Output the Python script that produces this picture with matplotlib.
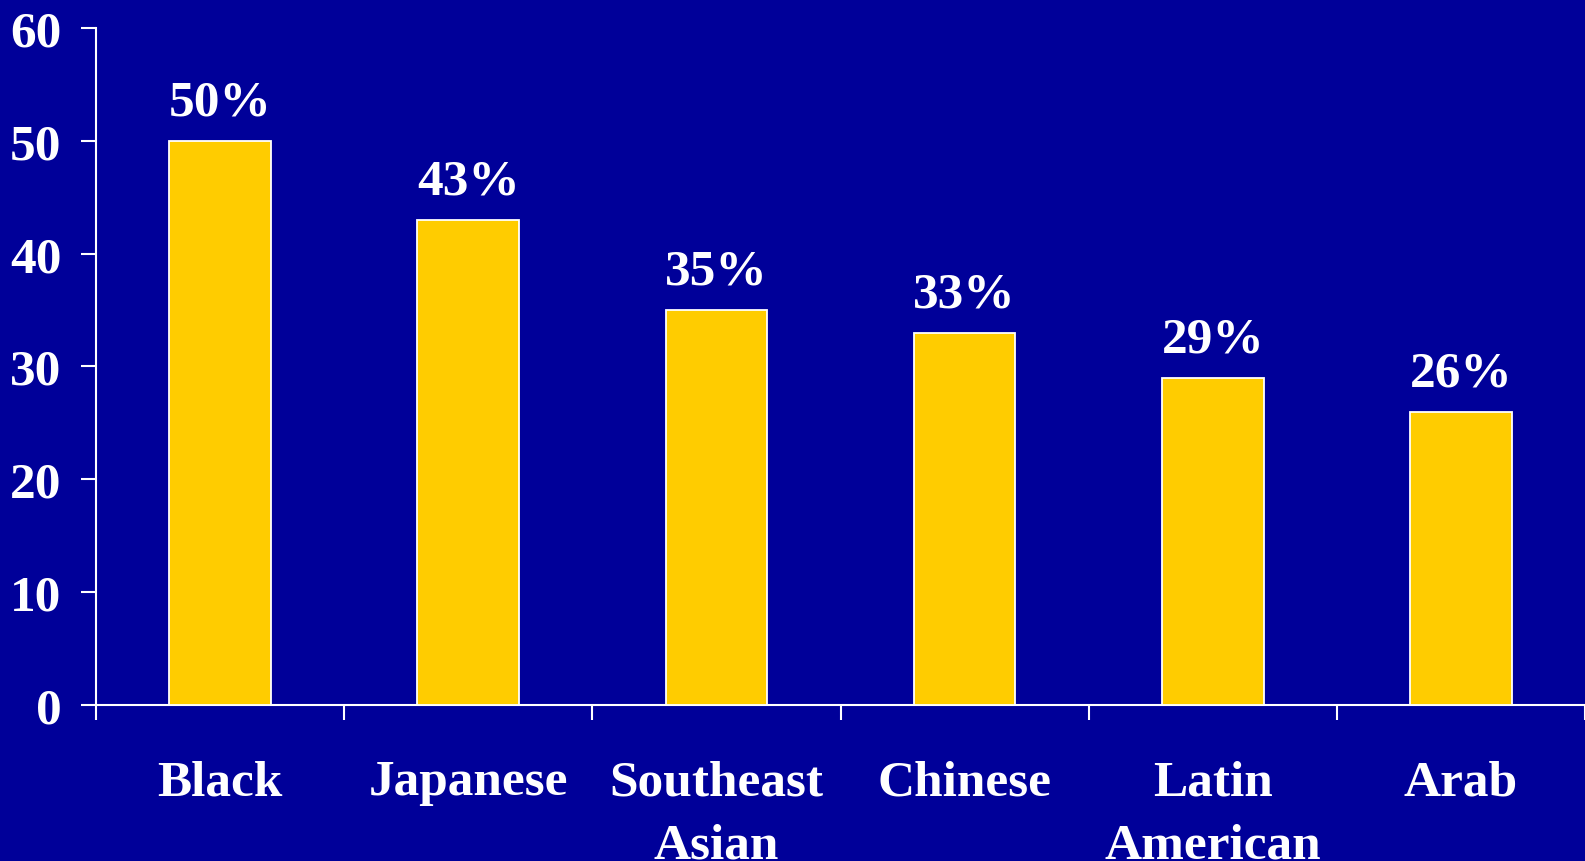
import matplotlib.pyplot as plt
import numpy as np

# Share of each group, in percent
categories = ['Black', 'Japanese', 'Southeast\nAsian', 'Chinese', 'Latin\nAmerican', 'Arab']
values = [50, 43, 35, 33, 29, 26]
y_ticks = [0, 10, 20, 30, 40, 50, 60]

BG = '#000099'
BAR = '#FFCC00'
FONT = 'Liberation Serif'
SIZE = 37

fig = plt.figure(figsize=(15.85, 8.62), dpi=100, facecolor=BG)
ax = fig.add_axes([0.0606, 0.181, 0.9394, 0.7854], facecolor=BG)

x = np.arange(len(categories))
bars = ax.bar(x, values, width=0.41, color=BAR, edgecolor='white', linewidth=1.3, zorder=3)

# value labels above each bar
for xi, v in zip(x, values):
    ax.annotate(f'{v}%', (xi, v), xytext=(0, 19), textcoords='offset points',
                ha='center', va='baseline', color='white',
                fontsize=SIZE, fontweight='bold', family=FONT)

ax.set_xlim(-0.5, len(categories) - 0.5)
ax.set_ylim(0, 60)
ax.set_yticks(y_ticks)

# boundary ticks between groups, labels centred on the bars
ax.set_xticks(np.arange(len(categories) + 1) - 0.5)
ax.set_xticklabels([])
ax.set_xticks(x, minor=True)
ax.set_xticklabels(categories, minor=True)

for s in ['top', 'right']:
    ax.spines[s].set_visible(False)
for s in ['left', 'bottom']:
    ax.spines[s].set_color('white')
    ax.spines[s].set_linewidth(1.5)

ax.tick_params(axis='x', which='major', direction='out', length=11, width=1.5, color='white')
ax.tick_params(axis='x', which='minor', length=0, pad=39)
ax.tick_params(axis='y', direction='out', length=11, width=1.5, color='white', pad=14)

for lab in ax.get_xticklabels(minor=True) + ax.get_yticklabels():
    lab.set_color('white')
    lab.set_fontsize(SIZE)
    lab.set_fontweight('bold')
    lab.set_family(FONT)
for lab in ax.get_xticklabels(minor=True):
    lab.set_linespacing(1.5)

fig.savefig('out.png', dpi=100, facecolor=BG)
